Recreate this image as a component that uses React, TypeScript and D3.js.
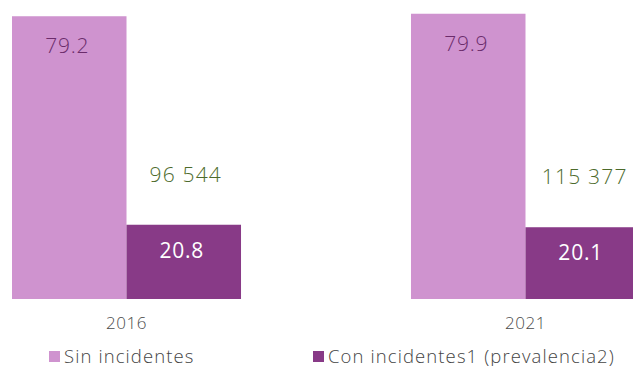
import React from "react";
import * as d3 from "d3";

const years = ["2016", "2021"];
const series = ["Sin incidentes", "Con incidentes1 (prevalencia2)"];
const sinIncidentes = [79.2, 79.9];
const conIncidentes = [20.8, 20.1];
const casos = ["96 544", "115 377"];

const colors = ["#cf93cf", "#883a87"];
const valueColors = ["#6b2c6b", "#ffffff"];

const width = 633;
const height = 366;
const font = "'Open Sans', 'Noto Sans', sans-serif";

const App: React.FC = () => {
  const x = d3
    .scaleBand()
    .domain(years)
    .range([12, 640])
    .paddingInner(0.426)
    .paddingOuter(0);

  const xs = d3.scaleBand().domain(series).range([0, x.bandwidth()]).padding(0);

  const y = d3.scaleLinear().domain([0, 83.75]).range([299, 0]);

  const values = [sinIncidentes, conIncidentes];

  return (
    <svg
      width={width}
      height={height}
      style={{ position: "absolute", left: 0, top: 0 }}
      fontFamily={font}
    >
      {years.map((yr, i) => (
        <g key={yr} transform={`translate(${x(yr)},0)`}>
          {series.map((s, j) => {
            const v = values[j][i];
            const bx = xs(s)!;
            const cx = bx + xs.bandwidth() / 2;
            return (
              <g key={s}>
                <rect
                  x={bx}
                  y={y(v)}
                  width={xs.bandwidth()}
                  height={y(0) - y(v)}
                  fill={colors[j]}
                />
                <text
                  x={cx - 2}
                  y={j === 0 ? y(v) + 37 : y(v) + 33}
                  textAnchor="middle"
                  fontSize={21}
                  fontWeight={j === 0 ? 300 : 400}
                  letterSpacing={0.8}
                  fill={valueColors[j]}
                >
                  {v.toFixed(1)}
                </text>
                {j === 1 && (
                  <text
                    x={cx + 2}
                    y={y(v) - 43}
                    textAnchor="middle"
                    fontSize={21}
                    fontWeight={300}
                    letterSpacing={1.2}
                    fill="#4c6a2b"
                  >
                    {casos[i]}
                  </text>
                )}
              </g>
            );
          })}
          <text
            x={x.bandwidth() / 2}
            y={329}
            textAnchor="middle"
            fontSize={17}
            fontWeight={300}
            letterSpacing={0.5}
            fill="#4a4a4a"
          >
            {yr}
          </text>
        </g>
      ))}
      {series.map((s, j) => {
        const lx = j === 0 ? 49 : 313;
        return (
          <g key={s} transform={`translate(${lx},351)`}>
            <rect x={0} y={0} width={11} height={11} fill={colors[j]} />
            <text
              x={15}
              y={11.5}
              fontSize={18.5}
              fontWeight={300}
              letterSpacing={1.1}
              fill="#444444"
            >
              {s}
            </text>
          </g>
        );
      })}
    </svg>
  );
};

export default App;
